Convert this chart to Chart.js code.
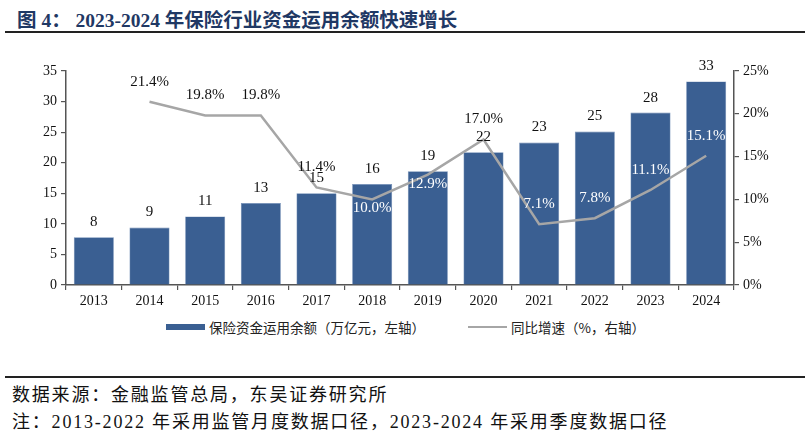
<!DOCTYPE html>
<html>
<head>
<meta charset="utf-8">
<script src="https://cdn.jsdelivr.net/npm/chart.js@4.4.1/dist/chart.umd.min.js"></script>
<style>
  body { margin: 0; width: 810px; height: 447px; background: #fff; position: relative; overflow: hidden;
         font-family: "Liberation Serif", "Noto Sans CJK SC", serif; }
  #title { position: absolute; left: 17px; top: 4px; font-size: 19.5px; font-weight: bold; color: #1f3864;
           white-space: nowrap; }
  #rule1 { position: absolute; left: 5px; width: 800px; top: 31px; height: 2px; background: #222; }
  #wrap { position: absolute; left: 0; top: 40px; width: 810px; height: 275px; }
  #legend { position: absolute; top: 318px; left: 0; width: 810px; height: 18px; font-size: 13.5px; color: #222; }
  .sw { position: absolute; }
  .lt { position: absolute; top: 0; white-space: nowrap; font-family: "Noto Sans CJK SC", sans-serif; line-height: 18px; }
  #rule2 { position: absolute; left: 5px; width: 800px; top: 376px; height: 2px; background: #222; }
  .foot { position: absolute; left: 12px; font-size: 18px; color: #111; white-space: nowrap;
          letter-spacing: 1.8px; line-height: 22px; }
</style>
</head>
<body>
<div id="title">图 4：&nbsp;2023-2024 年保险行业资金运用余额快速增长</div>
<div id="rule1"></div>
<div id="wrap"><canvas id="chart"></canvas></div>
<div id="legend">
  <div class="sw" style="left:166px; top:6px; width:39px; height:6px; background:#3a5f92;"></div>
  <div class="lt" style="left:209px;">保险资金运用余额（万亿元，左轴）</div>
  <div class="sw" style="left:468px; top:8px; width:39px; height:2px; background:#a6a6a6;"></div>
  <div class="lt" style="left:511px;">同比增速（%，右轴）</div>
</div>
<div id="rule2"></div>
<div class="foot" style="top:384px;">数据来源：金融监管总局，东吴证券研究所</div>
<div class="foot" style="top:411px;">注：2013-2022 年采用监管月度数据口径，2023-2024 年采用季度数据口径</div>

<script>
const years = ['2013', '2014', '2015', '2016', '2017', '2018', '2019', '2020', '2021', '2022', '2023', '2024'];
const balance = [7.8, 9.4, 11.2, 13.4, 15.0, 16.5, 18.6, 21.7, 23.3, 25.1, 28.2, 33.3];
const balanceLabels = ['8', '9', '11', '13', '15', '16', '19', '22', '23', '25', '28', '33'];
const growth = [null, 21.4, 19.8, 19.8, 11.4, 10.0, 12.9, 17.0, 7.1, 7.8, 11.1, 15.1];
// where the growth label sits and its colour
const growthPos = [null, 'up', 'up', 'up', 'up', 'down', 'down', 'up', 'up', 'up', 'up', 'up'];
const growthColor = [null, '#111', '#111', '#111', '#111', '#fff', '#fff', '#111', '#fff', '#fff', '#fff', '#fff'];

const labelFont = '15px "Liberation Serif", serif';

const valueLabels = {
  id: 'valueLabels',
  afterDatasetsDraw(chart) {
    const ctx = chart.ctx;
    ctx.save();
    ctx.font = labelFont;
    ctx.textAlign = 'center';
    ctx.textBaseline = 'middle';
    chart.getDatasetMeta(1).data.forEach((bar, i) => {
      ctx.fillStyle = '#111';
      ctx.fillText(balanceLabels[i], bar.x, bar.y - 15);
    });
    chart.getDatasetMeta(0).data.forEach((pt, i) => {
      if (growth[i] == null) return;
      ctx.fillStyle = growthColor[i];
      const dy = growthPos[i] === 'up' ? -20 : 9;
      ctx.fillText(growth[i].toFixed(1) + '%', pt.x, pt.y + dy);
    });
    ctx.restore();
  }
};

const tickFont = { family: '"Liberation Serif", serif', size: 14 };

new Chart(document.getElementById('chart'), {
  type: 'bar',
  data: {
    labels: years,
    datasets: [
      {
        type: 'line',
        label: '同比增速（%，右轴）',
        data: growth,
        yAxisID: 'y1',
        borderColor: '#a6a6a6',
        borderWidth: 2.5,
        pointRadius: 0,
        tension: 0,
        spanGaps: false,
        order: 0
      },
      {
        type: 'bar',
        label: '保险资金运用余额（万亿元，左轴）',
        data: balance,
        yAxisID: 'y',
        backgroundColor: '#3a5f92',
        borderColor: '#6f8cb5',
        borderWidth: 0.6,
        categoryPercentage: 1,
        barPercentage: 0.72,
        order: 1
      }
    ]
  },
  options: {
    responsive: true,
    maintainAspectRatio: false,
    animation: false,
    layout: { padding: { top: 31, bottom: 0, left: 0, right: 0 } },
    plugins: { legend: { display: false }, tooltip: { enabled: false } },
    scales: {
      x: {
        offset: true,
        grid: { display: true, drawOnChartArea: false, drawTicks: true, tickLength: 5, color: '#555', lineWidth: 1.2, offset: true },
        border: { color: '#555', width: 1.5 },
        ticks: { color: '#111', font: tickFont, padding: 3 },
        afterFit(s) { s.height = 30; }
      },
      y: {
        position: 'left',
        min: 0, max: 35,
        ticks: { stepSize: 5, color: '#111', font: tickFont, padding: 4 },
        grid: { drawOnChartArea: false, tickLength: 5, color: '#555', lineWidth: 1.2 },
        border: { color: '#555', width: 1.5 },
        afterFit(s) { s.width = 66; }
      },
      y1: {
        position: 'right',
        min: 0, max: 25,
        ticks: { stepSize: 5, color: '#111', font: tickFont, padding: 4, callback: v => v + '%' },
        grid: { drawOnChartArea: false, tickLength: 5, color: '#555', lineWidth: 1.2 },
        border: { color: '#555', width: 1.5 },
        afterFit(s) { s.width = 76; }
      }
    }
  },
  plugins: [valueLabels]
});
</script>
</body>
</html>
